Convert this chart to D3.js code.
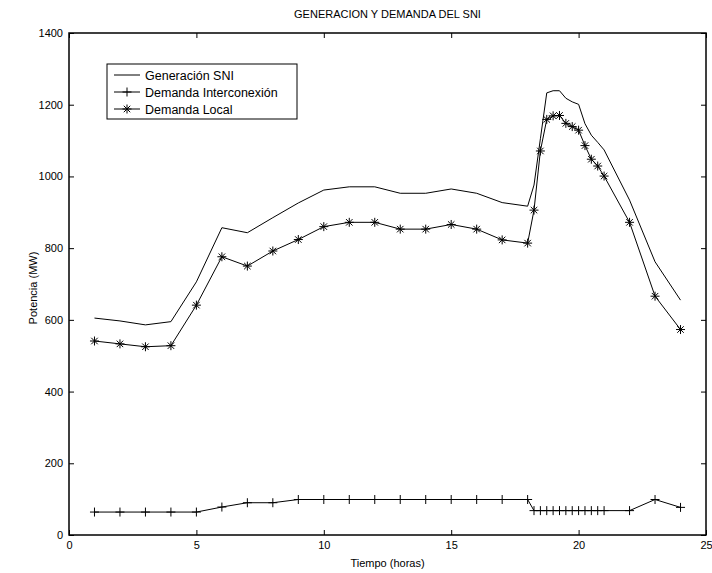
<!DOCTYPE html>
<html lang="en">
<meta charset="utf-8">
<style type="text/css">
  body { margin: 0; background: #fff; }
  svg { font-family: "Liberation Sans", Arial, sans-serif; }
  .line { fill: none; stroke: #000; stroke-width: 1; }
  .mark { stroke: #000; stroke-width: 1; fill: none; }
</style>
<body>
<script src="https://d3js.org/d3.v7.min.js"></script>
<script>
// hours (15 min steps during the evening peak)
var hours = [1, 2, 3, 4, 5, 6, 7, 8, 9, 10, 11, 12, 13, 14, 15, 16, 17, 18,
  18.25, 18.5, 18.75, 19, 19.25, 19.5, 19.75, 20, 20.25, 20.5, 20.75, 21, 22, 23, 24];

var generacion = [605, 597, 586, 595, 706, 857, 843, 885, 926, 962, 971, 971, 953, 953, 965, 953, 927, 917,
  976, 1105, 1233, 1239, 1239, 1218, 1208, 1201, 1147, 1115, 1095, 1074, 934, 762, 655];

var interconexion = [64, 64, 64, 64, 64, 78, 90, 90, 99, 99, 99, 99, 99, 99, 99, 99, 99, 99,
  68, 68, 68, 68, 68, 68, 68, 68, 68, 68, 68, 68, 68, 99, 77];

var local = [541, 533, 525, 528, 641, 776, 750, 792, 824, 860, 872, 872, 853, 853, 866, 853, 823, 814,
  906, 1071, 1159, 1169, 1170, 1148, 1139, 1129, 1086, 1048, 1029, 1001, 872, 666, 573];

var xTicks = [0, 5, 10, 15, 20, 25];
var yTicks = [0, 200, 400, 600, 800, 1000, 1200, 1400];

var width = 712, height = 573;
var mLeft = 69, mRight = 706, mTop = 33, mBottom = 535;

var svg = d3.select("body").append("svg")
    .attr("width", width)
    .attr("height", height);

var x = d3.scaleLinear().domain([0, 25]).range([mLeft, mRight]);
var y = d3.scaleLinear().domain([0, 1400]).range([mBottom, mTop]);

// axes, ticks inward on all four sides
svg.append("g").attr("transform", "translate(0," + mBottom + ")")
    .call(d3.axisBottom(x).tickValues(xTicks).tickSizeInner(-5).tickSizeOuter(0).tickPadding(6));
svg.append("g").attr("transform", "translate(0," + mTop + ")")
    .call(d3.axisTop(x).tickValues(xTicks).tickSizeInner(-5).tickSizeOuter(0).tickFormat(""));
svg.append("g").attr("transform", "translate(" + mLeft + ",0)")
    .call(d3.axisLeft(y).tickValues(yTicks).tickFormat(d3.format("d"))
      .tickSizeInner(-5).tickSizeOuter(0).tickPadding(6));
svg.append("g").attr("transform", "translate(" + mRight + ",0)")
    .call(d3.axisRight(y).tickValues(yTicks).tickSizeInner(-5).tickSizeOuter(0).tickFormat(""));

svg.selectAll(".tick text").attr("font-size", 11).attr("fill", "#000")
    .attr("font-family", "Liberation Sans, Arial, sans-serif");
svg.selectAll(".domain").remove();
svg.selectAll(".tick line").attr("stroke", "#000");

svg.append("rect")
    .attr("x", mLeft).attr("y", mTop)
    .attr("width", mRight - mLeft).attr("height", mBottom - mTop)
    .attr("fill", "none").attr("stroke", "#000").attr("stroke-width", 1.5);

var line = d3.line()
    .x(function (d) { return x(d[0]); })
    .y(function (d) { return y(d[1]); });

function pairs(vals) {
  return hours.map(function (h, i) { return [h, vals[i]]; });
}

svg.append("path").attr("class", "line").attr("d", line(pairs(generacion)));
svg.append("path").attr("class", "line").attr("d", line(pairs(interconexion)));
svg.append("path").attr("class", "line").attr("d", line(pairs(local)));

function plus(g, s) {
  g.append("path").attr("class", "mark")
    .attr("d", "M" + (-s) + ",0H" + s + "M0," + (-s) + "V" + s);
}
function star(g, s) {
  var d = s * 0.72;
  g.append("path").attr("class", "mark")
    .attr("d", "M" + (-s) + ",0H" + s + "M0," + (-s) + "V" + s +
      "M" + (-d) + "," + (-d) + "L" + d + "," + d + "M" + (-d) + "," + d + "L" + d + "," + (-d));
}

svg.selectAll(".pm").data(pairs(interconexion)).enter().append("g")
    .attr("class", "pm")
    .attr("transform", function (d) { return "translate(" + x(d[0]) + "," + y(d[1]) + ")"; })
    .each(function () { plus(d3.select(this), 4.5); });

svg.selectAll(".sm").data(pairs(local)).enter().append("g")
    .attr("class", "sm")
    .attr("transform", function (d) { return "translate(" + x(d[0]) + "," + y(d[1]) + ")"; })
    .each(function () { star(d3.select(this), 4.5); });

// titles
svg.append("text").attr("x", (mLeft + mRight) / 2).attr("y", 18)
    .attr("text-anchor", "middle").attr("font-size", 11)
    .text("GENERACION Y DEMANDA DEL SNI");
svg.append("text").attr("x", (mLeft + mRight) / 2).attr("y", 567)
    .attr("text-anchor", "middle").attr("font-size", 11)
    .text("Tiempo (horas)");
svg.append("text")
    .attr("transform", "translate(37," + ((mTop + mBottom) / 2 + 4) + ") rotate(-90)")
    .attr("text-anchor", "middle").attr("font-size", 11)
    .text("Potencia (MW)");

// legend
var legend = svg.append("g");
legend.append("rect").attr("x", 107).attr("y", 64).attr("width", 190).attr("height", 55)
    .attr("fill", "#fff").attr("stroke", "#000").attr("stroke-width", 1);
var names = ["Generación SNI", "Demanda Interconexión", "Demanda Local"];
names.forEach(function (n, i) {
  var yy = 75 + i * 17;
  legend.append("line").attr("x1", 114).attr("x2", 140).attr("y1", yy).attr("y2", yy)
      .attr("stroke", "#000");
  var g = legend.append("g").attr("transform", "translate(127," + yy + ")");
  if (i === 1) plus(g, 4.5);
  if (i === 2) star(g, 4.5);
  legend.append("text").attr("x", 145).attr("y", yy + 4.5).attr("font-size", 12.5).text(n);
});
</script>
</body>
</html>
